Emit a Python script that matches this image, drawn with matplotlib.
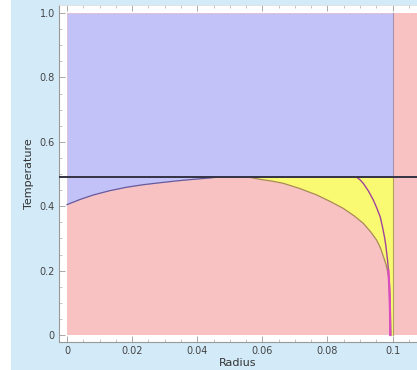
import matplotlib
matplotlib.use("Agg")
import matplotlib.pyplot as plt
from matplotlib.patches import Rectangle
from matplotlib.ticker import MultipleLocator

# ---- data ----
x_ticks = [0, 0.02, 0.04, 0.06, 0.08, 0.1]
x_tick_labels = ["0", "0.02", "0.04", "0.06", "0.08", "0.1"]
y_ticks = [0, 0.2, 0.4, 0.6, 0.8, 1.0]
y_tick_labels = ["0", "0.2", "0.4", "0.6", "0.8", "1.0"]

T_line = 0.49          # horizontal transition temperature
R_wall = 0.1           # vertical boundary radius

# lower boundary of the blue region (left part)
blue_r = [0.0, 0.004, 0.0081, 0.0130, 0.0183, 0.0235, 0.0286, 0.0340, 0.0388, 0.0429, 0.046]
blue_T = [0.405, 0.421, 0.435, 0.448, 0.459, 0.467, 0.473, 0.479, 0.4835, 0.487, 0.49]

# outer boundary of the yellow region
outer_r = [0.0560, 0.0593, 0.0630, 0.0665, 0.0715, 0.0767, 0.0810, 0.0849, 0.0882,
           0.0910, 0.0933, 0.0951, 0.0963, 0.0972, 0.0979, 0.0984, 0.0988, 0.0990,
           0.0992, 0.0993, 0.0995]
outer_T = [0.49, 0.4835, 0.478, 0.471, 0.455, 0.435, 0.414, 0.393, 0.370,
           0.347, 0.320, 0.295, 0.270, 0.243, 0.222, 0.202, 0.180, 0.160,
           0.120, 0.080, 0.0]

# inner (magenta) curve
inner_r = [0.0890, 0.0900, 0.0910, 0.0926, 0.0941, 0.0952, 0.0962, 0.0969, 0.0975,
           0.0979, 0.0982, 0.0985, 0.0987, 0.0990, 0.0992, 0.0993]
inner_T = [0.49, 0.482, 0.471, 0.447, 0.419, 0.393, 0.367, 0.336, 0.305,
           0.280, 0.254, 0.228, 0.202, 0.150, 0.080, 0.0]

X_MAX = 0.1075

pink = "#f9c2c2"
blue = "#c2c2f8"
yellow = "#fafa72"

fig = plt.figure(figsize=(4.17, 3.70), dpi=100)
fig.patch.set_facecolor("white")
fig.patches.append(Rectangle((11 / 417, 0), 1, 1, transform=fig.transFigure,
                             facecolor="#d3eaf8", edgecolor="none", zorder=-10))

ax = fig.add_axes([59 / 417, 1 - 342 / 370, 1 - 59 / 417, (342 - 5) / 370])
ax.set_facecolor("white")
ax.set_xlim(-0.00246, X_MAX)
ax.set_ylim(-0.0217, 1.025)

# pink base
ax.fill_between([0, X_MAX], [0, 0], [1, 1], color=pink, lw=0, zorder=1)
# blue region
b_r = blue_r + [R_wall]
b_T = blue_T + [T_line]
ax.fill_between(b_r, b_T, [1] * len(b_r), color=blue, lw=0, zorder=2)
# yellow region
ax.fill_betweenx(outer_T, outer_r, [R_wall] * len(outer_T), color=yellow, lw=0, zorder=2)

# boundary lines
ax.plot(blue_r, blue_T, color="#6a5a9a", lw=0.9, zorder=4)
ax.plot(outer_r, outer_T, color="#a8885a", lw=0.9, zorder=4)
ax.plot(inner_r, inner_T, color="#a0449a", lw=1.0, zorder=5)
low = [i for i, t in enumerate(inner_T) if t <= 0.21]
ax.plot([inner_r[i] for i in low], [inner_T[i] for i in low],
        color="#d84cc0", lw=1.6, zorder=5)
ax.plot([R_wall, R_wall], [0, T_line], color="#b0a060", lw=0.8, zorder=4)
ax.plot([R_wall, R_wall], [T_line, 1], color="#a890b0", lw=0.8, zorder=4)
ax.axhline(T_line, color="#333344", lw=1.4, zorder=6)

# frame / ticks
for s in ["left", "bottom"]:
    ax.spines[s].set_color("#999999")
    ax.spines[s].set_linewidth(0.8)
ax.spines["top"].set_color("#dddddd")
ax.spines["top"].set_linewidth(0.6)
ax.spines["right"].set_visible(False)

ax.set_xticks(x_ticks)
ax.set_xticklabels(x_tick_labels)
ax.set_yticks(y_ticks)
ax.set_yticklabels(y_tick_labels)
ax.xaxis.set_minor_locator(MultipleLocator(0.005))
ax.yaxis.set_minor_locator(MultipleLocator(0.05))
ax.tick_params(axis="both", which="major", direction="in", length=4, width=0.6,
               color="#999999", labelsize=7, labelcolor="#444444", pad=3)
ax.tick_params(axis="both", which="minor", direction="in", length=2, width=0.5,
               color="#aaaaaa")
ax.tick_params(axis="x", top=True, which="both")

ax.set_xlabel("Radius", fontsize=8, color="#333333", labelpad=1)
ax.set_ylabel("Temperature", fontsize=8, color="#333333", labelpad=4)

fig.savefig("out.png", dpi=100, facecolor=fig.get_facecolor())
